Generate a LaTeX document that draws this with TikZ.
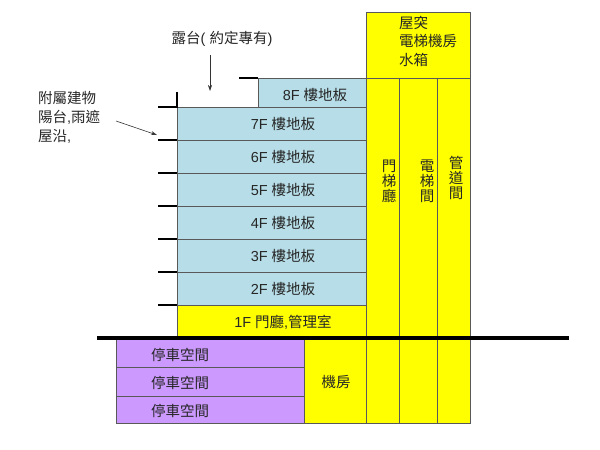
\documentclass[tikz,border=0pt]{standalone}
\usepackage{fontspec}
\usetikzlibrary{arrows.meta}
\setmainfont{Liberation Sans}
\newfontfamily\cjk{Noto Sans CJK TC}
\definecolor{floorblue}{HTML}{B7DEE8}
\definecolor{coreyellow}{HTML}{FFFF00}
\definecolor{parkpurple}{HTML}{CC99FF}
\definecolor{edge}{HTML}{595959}
\begin{document}
\begin{tikzpicture}[x=1pt,y=-1pt,
  blueroom/.style={draw=edge,line width=0.8pt,fill=floorblue},
  yellowroom/.style={draw=edge,line width=0.8pt,fill=coreyellow},
  purpleroom/.style={draw=edge,line width=0.8pt,fill=parkpurple},
  tick/.style={line width=2.6pt,black},
  lbl/.style={inner sep=0pt,font=\fontsize{14.5}{17}\selectfont,text=black!85},
  vlbl/.style={inner sep=0pt,align=center,font=\fontsize{14.5}{15}\selectfont\cjk,text=black!85},
  pointer/.style={-{Stealth[length=6pt,width=4pt]},line width=0.6pt,black!80}]
\useasboundingbox (0,0) rectangle (600,450);
% floors
\draw[blueroom] (258,78) rectangle (366,107);
\draw[blueroom] (177,107) rectangle (366,140);
\draw[blueroom] (177,140) rectangle (366,173);
\draw[blueroom] (177,173) rectangle (366,206);
\draw[blueroom] (177,206) rectangle (366,239);
\draw[blueroom] (177,239) rectangle (366,272);
\draw[blueroom] (177,272) rectangle (366,305);
\draw[yellowroom] (177,305) rectangle (366,338);
% core
\draw[yellowroom] (366,12) rectangle (470,78);
\draw[yellowroom] (366,78) rectangle (399,423);
\draw[yellowroom] (399,78) rectangle (437,423);
\draw[yellowroom] (437,78) rectangle (470,423);
% basement
\draw[purpleroom] (116,338) rectangle (304,367);
\draw[purpleroom] (116,367) rectangle (304,396);
\draw[purpleroom] (116,396) rectangle (304,423);
\draw[yellowroom] (304,338) rectangle (366,423);
% ground line
\draw[line width=4pt,black] (97,338) -- (569,338);
% balcony ticks
\draw[tick] (239,78) -- (258,78);
\draw[tick] (158,107) -- (177,107) -- (177,92);
\foreach \yy in {140,173,206,239,272,305}
  \draw[tick] (158,\yy) -- (177,\yy);
% labels
\node[lbl] (f8) at (315,95) {8F {\cjk 樓地板}};
\node[lbl] (f7) at (283,124) {7F {\cjk 樓地板}};
\node[lbl] (f6) at (283,157) {6F {\cjk 樓地板}};
\node[lbl] (f5) at (283,190) {5F {\cjk 樓地板}};
\node[lbl] (f4) at (283,223) {4F {\cjk 樓地板}};
\node[lbl] (f3) at (283,256) {3F {\cjk 樓地板}};
\node[lbl] (f2) at (283,289) {2F {\cjk 樓地板}};
\node[lbl] (f1) at (283,322) {1F {\cjk 門廳},{\cjk 管理室}};
\node[lbl] (p1) at (180,355) {\cjk 停車空間};
\node[lbl] (p2) at (180,383) {\cjk 停車空間};
\node[lbl] (p3) at (180,411) {\cjk 停車空間};
\node[lbl] (mech) at (336,382) {\cjk 機房};
\node[lbl,anchor=west,align=left,font=\fontsize{14.5}{18.5}\selectfont] (roof) at (399,41) {{\cjk 屋突}\\{\cjk 電梯機房}\\{\cjk 水箱}};
\node[vlbl] (lobby) at (389,181) {門\\梯\\廳};
\node[vlbl] (elev) at (427,181) {電\\梯\\間};
\node[vlbl] (duct) at (456,178) {管\\道\\間};
\node[lbl] (terrace) at (222,39) {{\cjk 露台}( {\cjk 約定專有})};
\node[lbl,anchor=west,align=left,font=\fontsize{14.5}{19}\selectfont] (annex) at (38,117) {{\cjk 附屬建物}\\{\cjk 陽台},{\cjk 雨遮}\\{\cjk 屋沿},};
\coordinate (terracestart) at (210,55);
\coordinate (terraceend) at (210,91);
\coordinate (annexstart) at (116,121);
\coordinate (annexend) at (157,135);
\draw[pointer] (terracestart) -- (terraceend);
\draw[pointer] (annexstart) -- (annexend);
\end{tikzpicture}
\end{document}
